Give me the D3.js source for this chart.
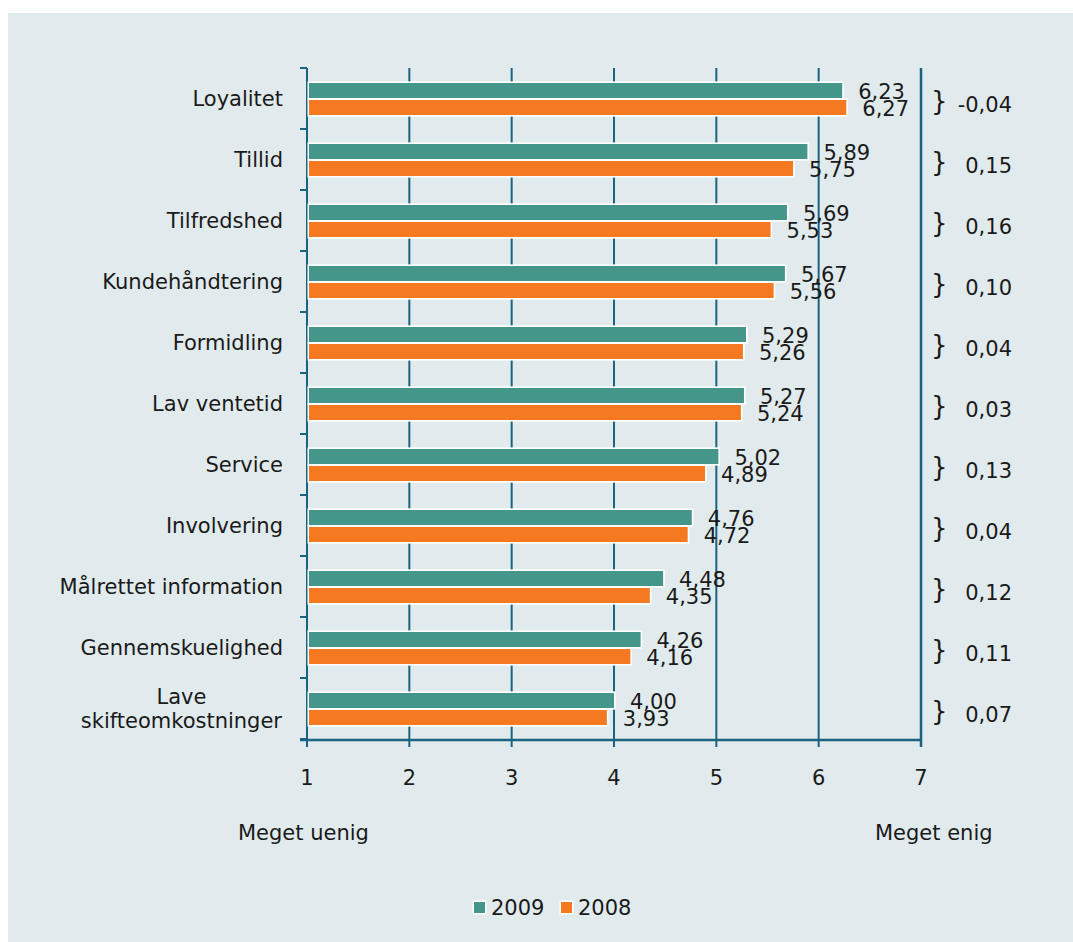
<!DOCTYPE html>
<html>
<head>
<meta charset="utf-8">
<script src="https://cdn.jsdelivr.net/npm/d3@7"></script>
<style>
  html, body { margin: 0; padding: 0; background: #ffffff; }
  svg { display: block; }
  text { font-family: "DejaVu Sans", Verdana, sans-serif; fill: #1a1a1a; font-size: 21px; }
</style>
</head>
<body>
<svg id="chart" width="1073" height="942"></svg>
<script>
// Survey dimensions, top to bottom
const categories = [
  "Loyalitet", "Tillid", "Tilfredshed", "Kundehåndtering", "Formidling",
  "Lav ventetid", "Service", "Involvering", "Målrettet information",
  "Gennemskuelighed", "Lave\nskifteomkostninger"
];
const values2009 = [6.23, 5.89, 5.69, 5.67, 5.29, 5.27, 5.02, 4.76, 4.48, 4.26, 4.00];
const values2008 = [6.27, 5.75, 5.53, 5.56, 5.26, 5.24, 4.89, 4.72, 4.35, 4.16, 3.93];
// Change from 2008 to 2009 as published
const changes = [-0.04, 0.15, 0.16, 0.10, 0.04, 0.03, 0.13, 0.04, 0.12, 0.11, 0.07];
const xTicks = [1, 2, 3, 4, 5, 6, 7];
const seriesNames = ["2009", "2008"];
const endLabels = ["Meget uenig", "Meget enig"];

const teal = "#45968a";
const orange = "#f47920";
const lineCol = "#1a6381";

const da = d3.formatLocale({ decimal: ",", thousands: ".", grouping: [3], currency: ["", " kr."], minus: "-" });
const fmt = da.format(".2f");

const svg = d3.select("#chart");

// panel background
svg.append("rect").attr("x", 8).attr("y", 13).attr("width", 1065).attr("height", 929)
  .attr("fill", "#e1eaed");

const x = d3.scaleLinear().domain([1, 7]).range([307, 921]);
const y = d3.scaleBand().domain(categories).range([68, 739]).padding(0);
const bw = y.bandwidth();

// vertical grid / tick lines at each integer
svg.append("g").selectAll("line").data(xTicks.slice(1)).join("line")
  .attr("x1", d => x(d)).attr("x2", d => x(d))
  .attr("y1", 68).attr("y2", 747)
  .attr("stroke", lineCol).attr("stroke-width", 2);

// left axis with ticks at band boundaries
const leftAxis = svg.append("g");
leftAxis.append("line").attr("x1", x(1)).attr("x2", x(1)).attr("y1", 68).attr("y2", 747)
  .attr("stroke", lineCol).attr("stroke-width", 2);
const boundaries = categories.map(c => y(c)).concat([y.range()[1]]);
leftAxis.selectAll("line.tick").data(boundaries).join("line").attr("class", "tick")
  .attr("x1", x(1) - 7).attr("x2", x(1)).attr("y1", d => d).attr("y2", d => d)
  .attr("stroke", lineCol).attr("stroke-width", 2);

// bottom axis
const bottom = svg.append("g");
bottom.append("line").attr("x1", x(1) - 7).attr("x2", x(7)).attr("y1", 740).attr("y2", 740)
  .attr("stroke", lineCol).attr("stroke-width", 2.5);
bottom.selectAll("text").data(xTicks).join("text")
  .attr("x", d => x(d)).attr("y", 785).attr("text-anchor", "middle")
  .text(d => d);

// bars
const rows = categories.map((c, i) => ({ c, v09: values2009[i], v08: values2008[i], d: changes[i] }));
const barSpecs = [
  { key: "v09", off: 15, color: teal },
  { key: "v08", off: 32, color: orange }
];
barSpecs.forEach(s => {
  const g = svg.append("g");
  g.selectAll("rect.bg").data(rows).join("rect").attr("class", "bg")
    .attr("x", x(1) + 0.5).attr("y", d => y(d.c) + s.off - 1.6)
    .attr("width", d => x(d[s.key]) - x(1) + 1.2).attr("height", 18.2)
    .attr("fill", "#ffffff");
  g.selectAll("rect.bar").data(rows).join("rect").attr("class", "bar")
    .attr("x", x(1) + 2).attr("y", d => y(d.c) + s.off)
    .attr("width", d => x(d[s.key]) - x(1) - 2).attr("height", 15)
    .attr("fill", s.color);
});

// value labels
barSpecs.forEach(s => {
  svg.append("g").selectAll("text").data(rows).join("text")
    .attr("x", d => x(d[s.key]) + 16).attr("y", d => y(d.c) + s.off + 15.5)
    .text(d => fmt(d[s.key]));
});

// right axis line at 7
svg.append("line").attr("x1", x(7)).attr("x2", x(7)).attr("y1", 68).attr("y2", 747)
  .attr("stroke", lineCol).attr("stroke-width", 2.5);

// category labels (multi-line labels centred within a right-aligned block)
const catG = svg.append("g");
rows.forEach(r => {
  const lines = r.c.split("\n");
  const cy = y(r.c) + bw / 2;
  if (lines.length === 1) {
    catG.append("text").attr("x", 283).attr("y", cy + 7.6).attr("text-anchor", "end")
      .text(lines[0]);
  } else {
    const t = catG.append("g");
    const texts = lines.map((l, k) => t.append("text")
      .attr("y", cy + 7.6 + (k - (lines.length - 1) / 2) * 24.5)
      .attr("text-anchor", "middle").text(l));
    const w = d3.max(texts, tx => tx.node().getComputedTextLength());
    texts.forEach(tx => tx.attr("x", 282 - w / 2));
  }
});

// change braces and values
const diffG = svg.append("g");
diffG.selectAll("text.brace").data(rows).join("text").attr("class", "brace")
  .attr("x", 931).attr("y", d => y(d.c) + bw / 2 + 11)
  .style("font-size", "26px").text("}");
diffG.selectAll("text.diff").data(rows).join("text").attr("class", "diff")
  .attr("x", 1012).attr("y", d => y(d.c) + bw / 2 + 13).attr("text-anchor", "end")
  .text(d => fmt(d.d));

// scale end labels
svg.append("text").attr("x", 238).attr("y", 840).text(endLabels[0]);
svg.append("text").attr("x", 875).attr("y", 840).text(endLabels[1]);

// legend
const legend = svg.append("g");
const legendX = [474, 561];
seriesNames.forEach((n, i) => {
  const g = legend.append("g").attr("transform", `translate(${legendX[i]},902)`);
  g.append("rect").attr("x", -1.5).attr("y", -1.5).attr("width", 14).attr("height", 14).attr("fill", "#ffffff");
  g.append("rect").attr("width", 11).attr("height", 11).attr("fill", i === 0 ? teal : orange);
  g.append("text").attr("x", 17).attr("y", 13).text(n);
});
</script>
</body>
</html>
